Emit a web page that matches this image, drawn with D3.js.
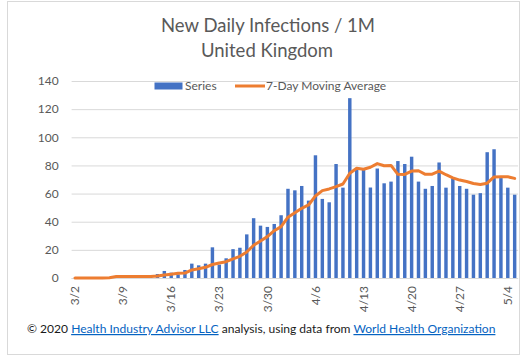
<!DOCTYPE html>
<html>
<head>
<meta charset="utf-8">
<script src="https://cdn.jsdelivr.net/npm/d3@7"></script>
<style>
  html, body { margin: 0; padding: 0; background: #fff; }
  svg { display: block; font-family: Lato, "Open Sans", sans-serif; }
</style>
</head>
<body>
<svg id="chart" width="527" height="358"></svg>
<script>
// ---- data ----
const titleLines = ["New Daily Infections / 1M", "United Kingdom"];
const seriesNames = ["Series", "7-Day Moving Average"];
const startDate = new Date(2020, 2, 2);   // 3/2/2020
const endDate = new Date(2020, 4, 6);     // exclusive -> last day 5/5
const dailyValues = [
  0.1, 0.1, 0.2, 0.3, 0.3, 0.4, 0.7, 0.7, 0.8, 1.0, 1.1, 1.5,
  2.8, 5.0, 3.8, 2.6, 5.7, 10.2, 9.0, 10.2, 21.8, 9.5, 14.0, 20.5,
  21.5, 31.0, 42.5, 37.2, 36.3, 38.4, 44.6, 63.4, 62.3, 65.4, 55.0, 87.2,
  56.2, 53.8, 81.0, 64.2, 127.8, 76.8, 76.8, 64.3, 77.8, 67.3, 68.5, 83.1,
  81.0, 86.2, 68.5, 63.4, 65.4, 82.1, 64.2, 70.8, 65.4, 63.4, 59.2, 60.3,
  89.4, 91.5, 71.0, 64.2, 59.2
];
const movingAvg = [
  0, 0, 0, 0, 0, 0.2, 1.0, 1.0, 1.0, 1.0, 1.1, 1.1,
  1.4, 2.1, 2.7, 3.4, 3.5, 5.7, 6.6, 7.6, 9.6, 10.7, 11.6, 13.6,
  15.4, 18.5, 23.3, 26.3, 29.4, 33.6, 36.5, 43.2, 46.4, 49.5, 51.9, 58.3,
  62.1, 63.3, 64.9, 66.8, 74.4, 78.0, 77.3, 78.7, 81.3, 79.8, 80.0, 73.7,
  73.6, 76.0, 76.2, 73.7, 73.8, 75.9, 73.4, 71.2, 69.6, 68.6, 67.2, 66.5,
  67.4, 71.8, 71.9, 71.9, 70.8
];
const xTickLabels = ["3/2", "3/9", "3/16", "3/23", "3/30", "4/6", "4/13", "4/20", "4/27", "5/4"];
const yTicks = [0, 20, 40, 60, 80, 100, 120, 140];
const footerParts = [
  {text: "\u00A9 2020 ", link: false},
  {text: "Health Industry Advisor LLC", link: true},
  {text: " analysis, using data from ", link: false},
  {text: "World Health Organization", link: true}
];

// categories (dates as M/D labels)
const fmt = d3.timeFormat("%-m/%-d");
const categories = d3.timeDay.range(startDate, endDate).map(fmt);
const rows = categories.map((c, i) => ({cat: c, v: dailyValues[i], ma: movingAvg[i]}));

// ---- layout ----
const svg = d3.select("#chart");
const W = 527, H = 358;
const plot = {left: 71.6, right: 518.1, top: 81, bottom: 278};
const gray = "#595959", gridC = "#d9d9d9";
const barC = "#4472C4", lineC = "#ED7D31";

svg.append("rect").attr("x", 7.5).attr("y", 1.5).attr("width", 512).attr("height", 353)
  .attr("fill", "#fff").attr("stroke", gridC).attr("stroke-width", 1);

const x = d3.scaleBand().domain(categories).range([plot.left, plot.right])
  .paddingInner(0.5).paddingOuter(0.25);
const y = d3.scaleLinear().domain([0, 140]).range([plot.bottom, plot.top]);

// gridlines + y labels
const yAxis = svg.append("g").attr("transform", `translate(${plot.left},0)`)
  .call(d3.axisLeft(y).tickValues(yTicks).tickSize(-(plot.right - plot.left)).tickPadding(13));
yAxis.select(".domain").remove();
yAxis.selectAll(".tick line").attr("stroke", gridC).attr("stroke-width", 1);
yAxis.selectAll(".tick text").attr("fill", gray).style("font-size", "12px")
  .style("font-family", "Lato, sans-serif");

// bars
svg.append("g").selectAll("rect").data(rows).join("rect")
  .attr("x", d => x(d.cat)).attr("width", x.bandwidth())
  .attr("y", d => y(d.v)).attr("height", d => y(0) - y(d.v))
  .attr("fill", barC);

// x axis
const xAxis = svg.append("g").attr("transform", `translate(0,${plot.bottom})`)
  .call(d3.axisBottom(x).tickValues(xTickLabels).tickSize(0));
xAxis.select(".domain").attr("stroke", gridC).attr("d", `M${plot.left},0.5H${plot.right}`);
xAxis.selectAll(".tick text")
  .attr("fill", gray).style("font-size", "12px").style("font-family", "Lato, sans-serif")
  .attr("transform", "rotate(-90)")
  .attr("text-anchor", "end").attr("x", -8).attr("y", 0).attr("dy", "0.35em");

// moving average line
const line = d3.line().x(d => x(d.cat) + x.bandwidth() / 2).y(d => y(d.ma));
svg.append("path").datum(rows).attr("d", line)
  .attr("fill", "none").attr("stroke", lineC).attr("stroke-width", 3)
  .attr("stroke-linejoin", "round").attr("stroke-linecap", "round");

// title
svg.append("text").attr("x", 268).attr("y", 32).attr("text-anchor", "middle")
  .attr("fill", gray).style("font-size", "18.5px").text(titleLines[0]);
svg.append("text").attr("x", 267).attr("y", 57).attr("text-anchor", "middle")
  .attr("fill", gray).style("font-size", "18.5px").text(titleLines[1]);

// legend
const lg = svg.append("g");
lg.append("rect").attr("x", 154.5).attr("y", 82.5).attr("width", 28).attr("height", 7).attr("fill", barC);
lg.append("text").attr("x", 185).attr("y", 90).attr("fill", gray).style("font-size", "12px").text(seriesNames[0]);
lg.append("line").attr("x1", 235).attr("x2", 265).attr("y1", 86).attr("y2", 86)
  .attr("stroke", lineC).attr("stroke-width", 3);
lg.append("text").attr("x", 266).attr("y", 90).attr("fill", gray).style("font-size", "12px").text(seriesNames[1]);

// footer
const ft = svg.append("text").attr("x", 27).attr("y", 333).attr("fill", "#1a1a1a")
  .style("font-size", "13px");
ft.selectAll("tspan").data(footerParts).join("tspan")
  .text(d => d.text)
  .attr("fill", d => d.link ? "#0563C1" : "#1a1a1a")
  .style("text-decoration", d => d.link ? "underline" : "none");
// scale footer font so it spans the same width as the reference
const fw = ft.node().getComputedTextLength();
ft.style("font-size", (13 * 469 / fw).toFixed(2) + "px");
</script>
</body>
</html>
